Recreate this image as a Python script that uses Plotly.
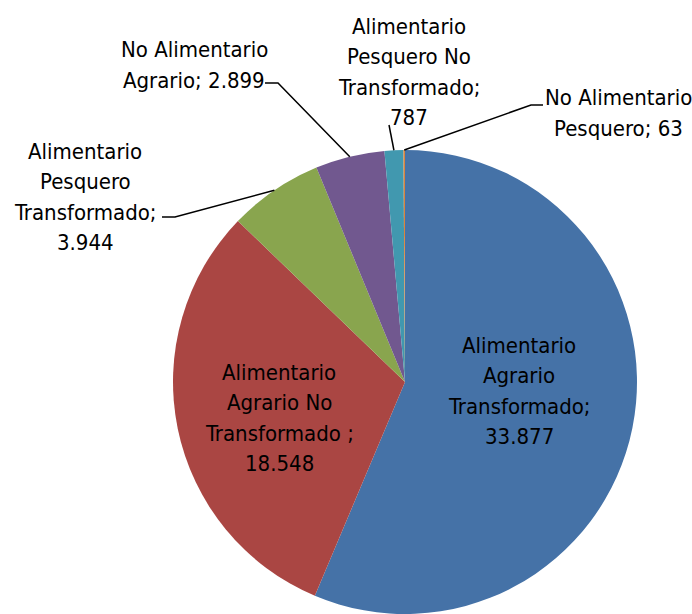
import math
import plotly.graph_objects as go

# Export composition by sector
categories = [
    "Alimentario Agrario Transformado",
    "Alimentario Agrario No Transformado",
    "Alimentario Pesquero Transformado",
    "No Alimentario Agrario",
    "Alimentario Pesquero No Transformado",
    "No Alimentario Pesquero",
]
values = [33877, 18548, 3944, 2899, 787, 63]
value_labels = ["33.877", "18.548", "3.944", "2.899", "787", "63"]
label_lines = [
    ["Alimentario", "Agrario", "Transformado;", value_labels[0]],
    ["Alimentario", "Agrario No", "Transformado ;", value_labels[1]],
    ["Alimentario", "Pesquero", "Transformado;", value_labels[2]],
    ["No Alimentario", "Agrario; " + value_labels[3]],
    ["Alimentario", "Pesquero No", "Transformado;", value_labels[4]],
    ["No Alimentario", "Pesquero; " + value_labels[5]],
]
colors = ["#4572A7", "#AA4643", "#89A54E", "#71588F", "#4198AF", "#DB843D"]

W, H = 692, 614
FONT = "DejaVu Sans Condensed, Liberation Sans Narrow, sans-serif"
FS = 22
LINE_GAP = 30.5

# pie geometry in pixels
CX, CY, R = 405, 382, 232

# label placement (pixel centres) and leader-line elbows
label_pos = [(519, 391), (279, 418), (85, 197), (194, 65), (409, 72), (618, 113)]
elbows = [None, None, [(175, 217), (162, 217)], [(278, 83), (265, 83)],
          [(389, 125)], [(531, 105), (543, 105)]]


def px(x, y):
    return x / W, 1 - y / H


fig = go.Figure(go.Pie(
    labels=categories,
    values=values,
    sort=False,
    direction="clockwise",
    rotation=0,
    marker=dict(colors=colors, line=dict(width=0)),
    textinfo="none",
    hoverinfo="label+value",
    domain=dict(x=[(CX - R) / W, (CX + R) / W], y=[(H - CY - R) / H, (H - CY + R) / H]),
    showlegend=False,
))

total = sum(values)
cum = 0.0
shapes = []
annotations = []
for i, v in enumerate(values):
    mid = (cum + v / 2) / total
    cum += v
    theta = 2 * math.pi * mid  # clockwise from top
    ex = CX + R * math.sin(theta)
    ey = CY - R * math.cos(theta)
    lx, ly = label_pos[i]
    lines = label_lines[i]
    n = len(lines)
    for k, line in enumerate(lines):
        yy = ly + (k - (n - 1) / 2) * LINE_GAP
        ax, ay = px(lx, yy)
        annotations.append(dict(
            x=ax, y=ay, xref="paper", yref="paper", text=line,
            showarrow=False, xanchor="center", yanchor="middle", align="center",
            font=dict(family=FONT, size=FS, color="#000000"),
        ))
    if elbows[i]:
        pts = [(ex, ey)] + elbows[i]
        path = "M " + " L ".join(f"{px(x, y)[0]},{px(x, y)[1]}" for x, y in pts)
        shapes.append(dict(type="path", xref="paper", yref="paper", path=path,
                           line=dict(color="#000000", width=1.5)))

fig.update_layout(
    width=W, height=H,
    margin=dict(l=0, r=0, t=0, b=0),
    paper_bgcolor="white",
    plot_bgcolor="white",
    shapes=shapes,
    annotations=annotations,
)

fig.write_html("out.html")
